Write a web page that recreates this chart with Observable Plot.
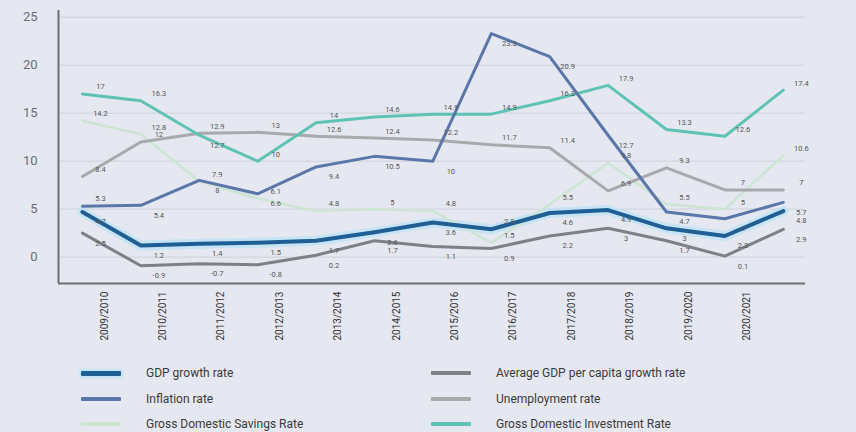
<!DOCTYPE html>
<html>
<head>
<meta charset="utf-8">
<script src="https://cdn.jsdelivr.net/npm/d3@7"></script>
<script src="https://cdn.jsdelivr.net/npm/@observablehq/plot@0.6"></script>
<style>
  html, body { margin: 0; padding: 0; background: #e5e8f0; }
  body { width: 856px; height: 432px; overflow: hidden; font-family: Roboto, "Open Sans", sans-serif; }
  #legend { position: relative; height: 72px; }
  .item { position: absolute; display: flex; align-items: center; font-size: 12px; color: #3a3a3a; }
  .sw { width: 40px; margin-right: 25px; border-radius: 1px; }
</style>
</head>
<body>
<div id="chart"></div>
<div id="legend"></div>
<script>
// Category labels on the x axis
const years = ["2009/2010","2010/2011","2011/2012","2012/2013","2013/2014","2014/2015",
               "2015/2016","2016/2017","2017/2018","2018/2019","2019/2020","2020/2021"];
// point index along the x axis (13 plotted points)
const pointIndex = [0,1,2,3,4,5,6,7,8,9,10,11,12];

// Series values (%)
const gdpGrowth      = [4.7, 1.2, 1.4, 1.5, 1.7, 2.6, 3.6, 2.9, 4.6, 4.9, 3.0, 2.2, 4.8];
const gdpPerCapita   = [2.5, -0.9, -0.7, -0.8, 0.2, 1.7, 1.1, 0.9, 2.2, 3.0, 1.7, 0.1, 2.9];
const inflation      = [5.3, 5.4, 8.0, 6.6, 9.4, 10.5, 10.0, 23.3, 20.9, 12.7, 4.7, 4.0, 5.7];
const unemployment   = [8.4, 12.0, 12.9, 13.0, 12.6, 12.4, 12.2, 11.7, 11.4, 6.9, 9.3, 7.0, 7.0];
const savingsRate    = [14.2, 12.8, 7.9, 6.1, 4.8, 5.0, 4.8, 1.5, 5.5, 9.8, 5.5, 5.0, 10.6];
const investmentRate = [17.0, 16.3, 12.7, 10.0, 14.0, 14.6, 14.9, 14.9, 16.3, 17.9, 13.3, 12.6, 17.4];

const yTicks = [0, 5, 10, 15, 20, 25];
const xDomain = [-0.41, 12.38];
const yDomain = [-2.75, 25.7];

// styling per series; "flip" lists points whose value label sits on the other side of the line
const series = [
  {name: "Gross Domestic Savings Rate",         values: savingsRate,    color: "#cde5d3", width: 2.5, dy: -7, flip: []},
  {name: "Unemployment rate",                   values: unemployment,   color: "#a7a9ad", width: 3,   dy: -7, flip: []},
  {name: "Average GDP per capita growth rate",  values: gdpPerCapita,   color: "#7d8187", width: 3,   dy: 10, flip: []},
  {name: "Gross Domestic Investment Rate",      values: investmentRate, color: "#5ec3b4", width: 3,   dy: -7, flip: [2]},
  {name: "Inflation rate",                      values: inflation,      color: "#5b77a9", width: 3,   dy: 10, flip: [0]},
  {name: "GDP growth rate",                     values: gdpGrowth,      color: "#1f5f93", width: 4,   dy: 10, flip: [7]}
];

const rows = s => pointIndex.map(i => ({i, v: s.values[i], name: s.name}));

const marks = [
  Plot.gridY(yTicks, {stroke: "#c3c7d2", strokeOpacity: 0.7}),
  Plot.axisY(yTicks, {tickSize: 0, tickPadding: 21, fontSize: 13, color: "#6b6e75", label: null}),
  Plot.axisX(d3.range(years.length), {
    tickSize: 0, tickRotate: -90, tickPadding: 8, dx: 22, fontSize: 10,
    color: "#333", tickFormat: i => years[i], label: null
  }),
  Plot.ruleX([xDomain[0]], {stroke: "#6b6e75", strokeWidth: 2}),
  Plot.ruleY([yDomain[0]], {stroke: "#6b6e75", strokeWidth: 2}),
  // halo for GDP growth line
  Plot.line(rows(series[5]), {x: "i", y: "v", stroke: "#bfe2f6", strokeWidth: 10, strokeOpacity: 0.8})
];
for (const s of series) {
  marks.push(Plot.line(rows(s), {x: "i", y: "v", stroke: s.color, strokeWidth: s.width}));
}
for (const s of series) {
  const flipDy = s.dy < 0 ? 10 : -8;
  marks.push(Plot.text(rows(s).filter(d => !s.flip.includes(d.i)), {x: "i", y: "v", text: d => String(d.v),
    dx: 18, dy: s.dy, fontSize: 7.5, fill: "#555"}));
  marks.push(Plot.text(rows(s).filter(d => s.flip.includes(d.i)), {x: "i", y: "v", text: d => String(d.v),
    dx: 18, dy: flipDy, fontSize: 7.5, fill: "#555"}));
}

const chart = Plot.plot({
  width: 856,
  height: 360,
  marginLeft: 58,
  marginRight: 51,
  marginTop: 10,
  marginBottom: 77,
  x: {type: "linear", domain: xDomain, axis: null, label: null},
  y: {domain: yDomain, axis: null, label: null},
  style: {background: "transparent", fontFamily: "Roboto, sans-serif"},
  marks
});
document.getElementById("chart").appendChild(chart);

// Legend
const legendOrder = [
  {name: "GDP growth rate", color: "#1f5f93", h: 5, halo: true, col: 0, row: 0},
  {name: "Average GDP per capita growth rate", color: "#7d8187", h: 4, col: 1, row: 0},
  {name: "Inflation rate", color: "#5b77a9", h: 4, col: 0, row: 1},
  {name: "Unemployment rate", color: "#a7a9ad", h: 4, col: 1, row: 1},
  {name: "Gross Domestic Savings Rate", color: "#cde5d3", h: 4, col: 0, row: 2},
  {name: "Gross Domestic Investment Rate", color: "#5ec3b4", h: 4, col: 1, row: 2}
];
const legend = document.getElementById("legend");
for (const l of legendOrder) {
  const item = document.createElement("div");
  item.className = "item";
  item.style.left = (l.col === 0 ? 81 : 431) + "px";
  item.style.top = (13 + l.row * 25.5 - 8) + "px";
  item.style.height = "16px";
  const sw = document.createElement("span");
  sw.className = "sw";
  sw.style.height = l.h + "px";
  sw.style.background = l.color;
  if (l.halo) sw.style.boxShadow = "0 0 3px 2px #bfe2f6";
  const tx = document.createElement("span");
  tx.textContent = l.name;
  item.appendChild(sw);
  item.appendChild(tx);
  legend.appendChild(item);
}
</script>
</body>
</html>
